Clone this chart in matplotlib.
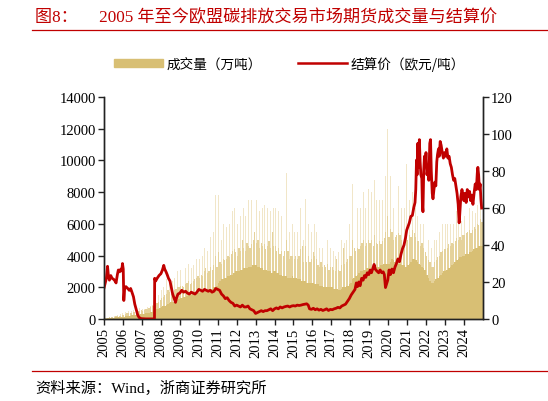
import matplotlib.pyplot as plt
import numpy as np

# monthly volume (万吨), Jan 2005 .. Dec 2024: dense core, common upper level, spikes
vol_base = [
    20, 30, 40, 50, 60, 80, 80, 100, 100, 120, 120, 150,
    150, 180, 200, 200, 220, 250, 250, 280, 300, 300, 320, 330,
    300, 320, 350, 380, 400, 420, 450, 500, 550, 600, 650, 700,
    750, 800, 850, 900, 950, 1000, 1050, 1100, 1150, 1200, 1200, 1250,
    1300, 1350, 1400, 1400, 1450, 1500, 1500, 1500, 1550, 1600, 1600, 1650,
    1650, 1700, 1700, 1750, 1800, 1800, 1850, 1900, 1900, 2000, 2000, 2100,
    2300, 2400, 2500, 2500, 2600, 2600, 2700, 2700, 2800, 2800, 2900, 3000,
    3000, 3000, 3100, 3100, 3200, 3200, 3200, 3300, 3300, 3300, 3400, 3400,
    3400, 3300, 3300, 3200, 3200, 3100, 3100, 3000, 3000, 3000, 2900, 3000,
    3000, 2900, 2900, 2800, 2800, 2700, 2700, 2700, 2600, 2600, 2600, 2700,
    2600, 2600, 2500, 2500, 2500, 2400, 2400, 2400, 2300, 2300, 2300, 2300,
    2300, 2200, 2200, 2200, 2100, 2100, 2100, 2000, 2000, 2000, 2000, 2000,
    2000, 1900, 1900, 1900, 1800, 1800, 1900, 2000, 2000, 2100, 2100, 2200,
    2300, 2500, 2600, 2700, 2800, 2900, 3000, 3000, 3100, 3100, 3200, 3200,
    3100, 3100, 3200, 3200, 3300, 3300, 3300, 3400, 3400, 3500, 3500, 3500,
    3500, 3600, 3800, 3700, 3600, 3600, 3500, 3500, 3400, 3400, 3400, 3300,
    3400, 3500, 3600, 3800, 3800, 3700, 3600, 3500, 3400, 3300, 3200, 3100,
    2800, 2600, 2400, 2300, 2300, 2400, 2500, 2600, 2700, 2800, 2900, 3000,
    3000, 3100, 3200, 3300, 3400, 3500, 3600, 3700, 3800, 3900, 3900, 4000,
    4000, 4100, 4100, 4200, 4200, 4300, 4400, 4500, 4500, 4600, 4600, 4600,
]
vol_mid = [
    40, 60, 80, 100, 120, 150, 150, 180, 180, 200, 220, 250,
    250, 300, 350, 350, 400, 400, 420, 450, 480, 500, 520, 550,
    500, 550, 600, 650, 700, 750, 800, 850, 900, 1000, 1100, 1200,
    1300, 1400, 1500, 1600, 1800, 1700, 1600, 1700, 1800, 1900, 2000, 2000,
    2100, 2100, 2000, 2200, 2300, 2400, 2200, 2300, 2400, 2500, 2600, 2700,
    2600, 2800, 2700, 3000, 3200, 2900, 3000, 3300, 3100, 3400, 4000, 3300,
    4200, 3600, 3500, 3800, 3700, 3800, 4000, 3900, 4100, 4300, 4400, 4200,
    4000, 4500, 4300, 5000, 4500, 4300, 4800, 4600, 4500, 4700, 5000, 5500,
    4800, 5000, 4500, 4800, 4600, 4700, 4400, 4600, 4900, 4500, 5500, 4600,
    4600, 4300, 4500, 4100, 4300, 4000, 4300, 5000, 4300, 3800, 4000, 4000,
    3800, 4000, 3800, 4000, 4400, 4600, 3600, 4600, 3600, 4000, 3600, 3800,
    4200, 4000, 3800, 3400, 3300, 3600, 3300, 3400, 3300, 3500, 3100, 3300,
    3300, 3100, 3000, 3800, 3100, 3000, 3400, 4500, 3500, 3600, 3800, 4000,
    4000, 5000, 4500, 4300, 4500, 4400, 4600, 4800, 5000, 4600, 4800, 5000,
    4800, 5000, 4600, 5300, 4800, 4700, 4900, 4700, 4900, 5100, 5500, 6500,
    5200, 5700, 5500, 5000, 5200, 5300, 5400, 5300, 5000, 4800, 5000, 5800,
    5000, 5300, 5200, 5600, 5400, 5200, 4900, 4900, 4600, 4800, 4500, 4200,
    4000, 3700, 3600, 3300, 3300, 3600, 3700, 3900, 4000, 4200, 4300, 4400,
    4400, 4500, 4700, 4600, 4800, 4700, 4900, 5100, 5000, 5200, 5000, 5300,
    5300, 5400, 5500, 5600, 5400, 5600, 5800, 5700, 6000, 5900, 6300, 6100,
]
vol_peak = [
    50, 80, 100, 120, 150, 200, 200, 250, 250, 300, 300, 350,
    400, 450, 500, 500, 900, 500, 550, 600, 600, 700, 700, 650,
    600, 650, 700, 750, 800, 850, 900, 1000, 1100, 1300, 1500, 1700,
    1800, 2000, 2200, 2500, 3500, 2600, 2200, 2400, 2600, 2800, 3000, 3000,
    3100, 3000, 2800, 3200, 3300, 3500, 3000, 3200, 3400, 3600, 3800, 4000,
    3800, 4200, 4000, 4500, 5000, 4300, 4600, 5200, 4800, 5500, 7800, 5000,
    7800, 5500, 5000, 6000, 5500, 5800, 6200, 6000, 6500, 6800, 7000, 6500,
    6000, 7000, 6500, 8200, 7000, 6500, 8000, 7500, 7000, 7500, 8000, 11400,
    7500, 8000, 6800, 7500, 7000, 7200, 6500, 7000, 7800, 6800, 13000, 7000,
    7000, 6500, 6800, 6000, 6500, 6000, 6500, 9200, 6500, 5500, 6000, 6000,
    5500, 6000, 5500, 6000, 7000, 7500, 5000, 7600, 5000, 6000, 5000, 5500,
    6700, 6000, 5500, 4800, 4500, 5200, 4500, 4800, 4500, 5000, 4200, 4500,
    4500, 4300, 4000, 6000, 4200, 4000, 5000, 8200, 4800, 5000, 5500, 6000,
    6000, 8500, 7000, 6500, 7000, 6500, 7000, 7500, 8000, 7000, 7500, 8200,
    7500, 8000, 7000, 8800, 7500, 7000, 7500, 7000, 7500, 8000, 9000, 12000,
    8000, 9000, 8000, 7000, 7500, 8000, 8400, 8000, 7000, 6500, 7000, 9800,
    7000, 7500, 7000, 8000, 7500, 7000, 6500, 6500, 6000, 6500, 6000, 5500,
    5500, 5000, 5000, 4500, 4500, 5000, 5000, 5500, 5500, 6000, 6000, 6000,
    6000, 6000, 6500, 6000, 6500, 6000, 6500, 6800, 6100, 6500, 6200, 6500,
    6500, 6700, 6800, 7000, 6500, 6800, 7000, 6700, 7200, 7000, 8000, 7500,
]

# settlement price (欧元/吨)
price_x = [
    2005.00, 2005.05, 2005.12, 2005.18, 2005.22, 2005.28, 2005.35, 2005.42, 2005.50, 2005.58,
    2005.63, 2005.70, 2005.75, 2005.82, 2005.88, 2005.93, 2005.97, 2006.01, 2006.04, 2006.08,
    2006.15, 2006.25, 2006.33, 2006.40, 2006.47, 2006.55, 2006.62, 2006.70, 2006.78, 2006.85,
    2006.95, 2007.20, 2007.66, 2007.67, 2007.72, 2007.80, 2007.90, 2008.00, 2008.08, 2008.15,
    2008.20, 2008.27, 2008.33, 2008.40, 2008.48, 2008.55, 2008.62, 2008.70, 2008.77, 2008.83,
    2008.90, 2009.00, 2009.10, 2009.20, 2009.30, 2009.40, 2009.50, 2009.60, 2009.70, 2009.80,
    2009.90, 2010.00, 2010.10, 2010.20, 2010.30, 2010.40, 2010.50, 2010.60, 2010.70, 2010.80,
    2010.90, 2011.00, 2011.10, 2011.20, 2011.30, 2011.40, 2011.50, 2011.60, 2011.70, 2011.80,
    2011.90, 2012.00, 2012.10, 2012.20, 2012.30, 2012.40, 2012.50, 2012.60, 2012.70, 2012.80,
    2012.90, 2013.00, 2013.10, 2013.20, 2013.30, 2013.40, 2013.50, 2013.60, 2013.70, 2013.80,
    2013.90, 2014.00, 2014.10, 2014.20, 2014.30, 2014.40, 2014.50, 2014.60, 2014.70, 2014.80,
    2014.90, 2015.00, 2015.10, 2015.20, 2015.30, 2015.40, 2015.50, 2015.60, 2015.70, 2015.78,
    2015.85, 2015.95, 2016.05, 2016.15, 2016.25, 2016.35, 2016.45, 2016.55, 2016.65, 2016.75,
    2016.85, 2016.95, 2017.05, 2017.15, 2017.25, 2017.35, 2017.45, 2017.55, 2017.65, 2017.75,
    2017.85, 2017.95, 2018.05, 2018.15, 2018.25, 2018.32, 2018.38, 2018.45, 2018.52, 2018.60,
    2018.68, 2018.75, 2018.82, 2018.90, 2018.98, 2019.05, 2019.12, 2019.20, 2019.26, 2019.32,
    2019.40, 2019.50, 2019.58, 2019.66, 2019.74, 2019.80, 2019.86, 2019.92, 2019.98, 2020.05,
    2020.12, 2020.20, 2020.28, 2020.36, 2020.44, 2020.52, 2020.60, 2020.68, 2020.76, 2020.84,
    2020.92, 2020.98, 2021.05, 2021.12, 2021.20, 2021.28, 2021.35, 2021.42, 2021.46, 2021.50,
    2021.53, 2021.57, 2021.61, 2021.65, 2021.69, 2021.73, 2021.78, 2021.81, 2021.84, 2021.88,
    2021.92, 2021.96, 2022.00, 2022.05, 2022.10, 2022.15, 2022.20, 2022.24, 2022.28, 2022.33,
    2022.37, 2022.42, 2022.47, 2022.52, 2022.57, 2022.61, 2022.66, 2022.70, 2022.75, 2022.80,
    2022.86, 2022.92, 2022.98, 2023.04, 2023.10, 2023.16, 2023.22, 2023.28, 2023.34, 2023.40,
    2023.46, 2023.52, 2023.58, 2023.64, 2023.70, 2023.75, 2023.78, 2023.84, 2023.90, 2023.95,
    2024.00, 2024.06, 2024.12, 2024.18, 2024.24, 2024.30, 2024.36, 2024.42, 2024.48, 2024.54,
    2024.60, 2024.66, 2024.71, 2024.74, 2024.78, 2024.82, 2024.86, 2024.90, 2024.94,
]
price_y = [
    17, 19, 22, 28.5, 24, 21, 23.5, 22, 21.5, 20.5,
    19.5, 24, 26.5, 25.5, 27, 26, 30, 27, 10, 16,
    17.5, 16.5, 15.5, 16.5, 14.5, 12, 8, 5, 2, 0.8,
    0.2, 0.05, 0.05, 22, 20.5, 22, 23.5, 24.5, 26.5, 29,
    27, 25.5, 24, 22, 20.5, 17, 13.5, 11, 9, 11.5,
    13.5, 14, 15.5, 14.5, 15, 14, 13.5, 14.5, 14, 13.5,
    14.5, 16, 15.5, 15, 16, 15.5, 15, 15.5, 14.5, 15,
    16.5, 16, 15.5, 13.5, 12.5, 11, 11.5, 10, 9, 8.5,
    7, 7.5, 7, 6.5, 7.5, 6.5, 6.5, 7, 5.5, 5,
    4.5, 3, 3.5, 4, 4.5, 4, 4.5, 4.5, 5, 5.5,
    4.5, 5.5, 6, 5.5, 6.5, 6, 6.5, 6.8, 7, 6.5,
    7, 7.2, 7.0, 7.5, 7.3, 7.5, 7.8, 8.0, 8.2, 7.5,
    5.5, 5.2, 5.8, 5.0, 5.5, 4.8, 5.2, 4.6, 5.0, 5.5,
    4.6, 5.2, 5.0, 5.5, 5.8, 6.3, 6.0, 7.0, 7.5, 8.0,
    9.5, 11, 13, 14.5, 16, 19.5, 17.5, 20, 18, 22,
    21, 23.5, 22.5, 25, 24, 26.5, 25, 27.5, 29.5, 27,
    26, 25, 26.5, 25, 25.5, 24, 17, 19, 21, 26.5,
    24, 27, 25, 28, 30, 32.5, 31, 35, 38, 40,
    44, 48, 50, 52, 55.5, 56, 60, 63, 70, 86,
    78, 95, 82, 97, 85, 78, 76, 62, 58, 80,
    88, 83, 90, 78, 82, 75, 95, 97, 80, 68,
    65, 70, 74, 72, 85, 89, 92, 88, 96, 94,
    90, 87, 90, 88, 92, 87, 88, 84, 82, 78,
    75, 76, 72, 68, 62, 52, 56, 66, 70, 67,
    64, 68, 63, 70, 66, 69, 64, 67, 62, 68,
    73, 70, 79, 82, 78, 70, 73, 65, 60,
]

years = list(range(2005, 2025))

serif = ['Liberation Serif', 'Noto Sans CJK SC']
plt.rcParams['font.family'] = ['Noto Sans CJK SC', 'DejaVu Sans']

fig = plt.figure(figsize=(5.48, 4.02), dpi=100)
ax = fig.add_axes([0.19, 0.204, 0.691, 0.552])
ax2 = ax.twinx()

gold = '#D8BF74'
mid = '#E5D29B'
light = '#F1E6C8'
red = '#C00000'

mx = 2005 + np.arange(len(vol_base)) / 12
ax.bar(mx + 1 / 24, vol_peak, width=0.35 / 12, color=light, linewidth=0)
ax.bar(mx + 1 / 24, vol_mid, width=0.75 / 12, color=mid, linewidth=0)
ax.bar(mx, vol_base, width=1 / 12, align='edge', color=gold, linewidth=0)

ax2.plot(price_x, price_y, color=red, lw=2.0)

ax.set_xlim(2005, 2025)
ax.set_ylim(0, 14000)
ax2.set_ylim(0, 120)
ax.set_yticks(range(0, 14001, 2000))
ax2.set_yticks(range(0, 121, 20))
ax.set_xticks(years)
ax.set_xticklabels([str(y) for y in years], rotation=90)

for a in (ax, ax2):
    a.spines['top'].set_visible(False)
    for s in ('left', 'bottom', 'right'):
        a.spines[s].set_color('#222222')
        a.spines[s].set_linewidth(1.0)
    a.tick_params(direction='out', length=4, width=1, color='#222222', pad=2)
    for lab in a.get_xticklabels() + a.get_yticklabels():
        lab.set_family(serif)
        lab.set_fontsize(10.5)

# legend
h1 = plt.Rectangle((0, 0), 1, 1, color=gold)
h2, = ax2.plot([], [], color=red, lw=1.8)
fig.legend([h1, h2], ['成交量（万吨）', '结算价（欧元/吨）'], loc='center',
           bbox_to_anchor=(0.528, 0.84), ncol=2, frameon=False, fontsize=9.8,
           handlelength=3.6, handleheight=0.55, columnspacing=2.6, handletextpad=0.3)

# header / footer
fig.text(0.064, 0.955, '图8：\u3000 2005 年至今欧盟碳排放交易市场期货成交量与结算价',
         family=serif, fontsize=12.3, color=red, va='center', ha='left')
fig.add_artist(plt.Line2D([0.058, 1.0], [0.922, 0.922], color=red, lw=0.9))
fig.add_artist(plt.Line2D([0.058, 1.0], [0.075, 0.075], color=red, lw=0.9))
fig.text(0.064, 0.035, '资料来源：Wind，浙商证券研究所', family=serif,
         fontsize=11, color='black', va='center', ha='left')

fig.savefig('out.png', dpi=100)
